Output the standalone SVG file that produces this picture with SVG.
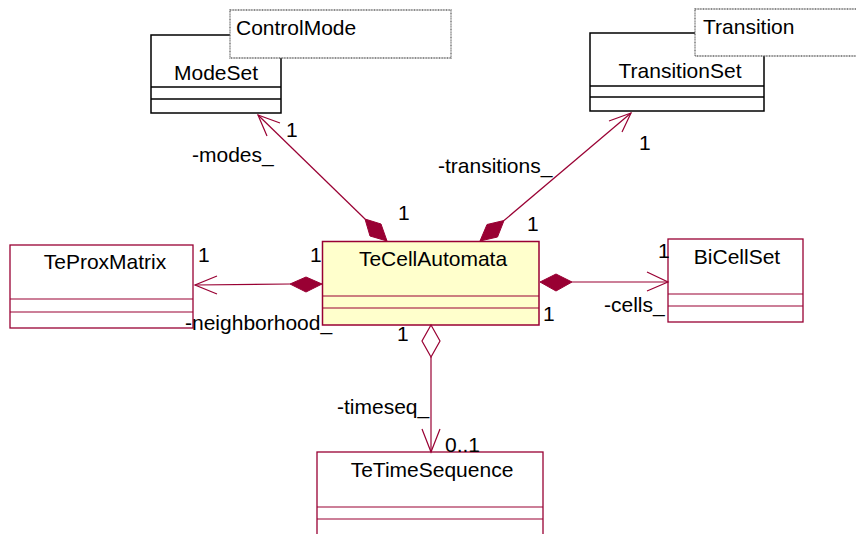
<svg xmlns="http://www.w3.org/2000/svg" width="856" height="534" viewBox="0 0 856 534">
<style>
text{font-family:"Liberation Sans",Arial,sans-serif;font-size:21px;fill:#000}
.c{text-anchor:middle}
.blk{fill:#fff;stroke:#000;stroke-width:1.5}
.red{fill:#fff;stroke:#990033;stroke-width:1.3}
.yel{fill:#FFFFCC;stroke:#990033;stroke-width:1.5}
.tpl{fill:#fff;stroke:#666;stroke-width:1.3;stroke-dasharray:1 0.6}
.lb{stroke:#000;stroke-width:1.3}
.lr{stroke:#990033;stroke-width:1.2}
.ln{stroke:#990033;stroke-width:1.2;fill:none}
.fd{fill:#990033;stroke:#990033;stroke-width:1}
.hd{fill:#fff;stroke:#990033;stroke-width:1.2}
</style>
<g id="ModeSet">
<rect class="blk" x="151" y="35" width="130" height="78"/>
<line class="lb" x1="151" y1="87" x2="281" y2="87"/>
<line class="lb" x1="151" y1="99" x2="281" y2="99"/>
<text class="c" x="216" y="80">ModeSet</text>
</g>
<g id="ControlMode">
<rect class="tpl" x="230" y="10" width="221" height="48"/>
<text x="236" y="35">ControlMode</text>
</g>
<g id="TransitionSet">
<rect class="blk" x="590" y="33" width="174" height="78"/>
<line class="lb" x1="590" y1="86" x2="764" y2="86"/>
<line class="lb" x1="590" y1="97" x2="764" y2="97"/>
<text class="c" x="680" y="78">TransitionSet</text>
</g>
<g id="Transition">
<rect class="tpl" x="695" y="9" width="170" height="47"/>
<text x="703" y="34">Transition</text>
</g>
<g id="TeProxMatrix">
<rect class="red" x="10" y="245" width="183" height="83"/>
<line class="lr" x1="10" y1="299" x2="193" y2="299"/>
<line class="lr" x1="10" y1="312" x2="193" y2="312"/>
<text class="c" x="105" y="269">TeProxMatrix</text>
</g>
<g id="TeCellAutomata">
<rect class="yel" x="322.5" y="241.5" width="216.5" height="83.5"/>
<line class="lr" x1="322.5" y1="296" x2="539" y2="296"/>
<line class="lr" x1="322.5" y1="308" x2="539" y2="308"/>
<text class="c" x="433" y="266">TeCellAutomata</text>
</g>
<g id="BiCellSet">
<rect class="red" x="668" y="239" width="135" height="83"/>
<line class="lr" x1="668" y1="294" x2="803" y2="294"/>
<line class="lr" x1="668" y1="306" x2="803" y2="306"/>
<text class="c" x="737" y="264">BiCellSet</text>
</g>
<g id="TeTimeSequence">
<rect class="red" x="317" y="452" width="226" height="100"/>
<line class="lr" x1="317" y1="507" x2="543" y2="507"/>
<line class="lr" x1="317" y1="519" x2="543" y2="519"/>
<text class="c" x="432" y="477">TeTimeSequence</text>
</g>
<g id="connectors">
<line class="ln" x1="258" y1="115" x2="365" y2="219"/>
<polyline class="ln" points="280,123 258,115 267,136"/>
<polygon class="fd" points="387,241 381,224 365,219 370,236"/>
<line class="ln" x1="631" y1="113" x2="504" y2="220.5"/>
<polyline class="ln" points="609,121 631,113 622,132"/>
<polygon class="fd" points="480,241 487,224.5 504,220.5 497.5,237"/>
<line class="ln" x1="195" y1="285" x2="290" y2="284"/>
<polyline class="ln" points="217,276 195,285 217,294"/>
<polygon class="fd" points="322,284 306,277 290,284 306,292"/>
<line class="ln" x1="572" y1="282" x2="668" y2="282"/>
<polyline class="ln" points="647,272 668,282 647,291"/>
<polygon class="fd" points="540,282 556,274 572,282 556,291"/>
<line class="ln" x1="431" y1="357" x2="431" y2="452"/>
<polyline class="ln" points="422,429 431,452 440,429"/>
<polygon class="hd" points="431,325 440,341 431,357 422,341"/>
</g>
<g id="labels">
<text x="286" y="137">1</text>
<text x="192" y="162">-modes_</text>
<text x="398" y="220">1</text>
<text x="639" y="150">1</text>
<text x="438" y="173">-transitions_</text>
<text x="527" y="231">1</text>
<text x="198" y="262">1</text>
<text x="310" y="262">1</text>
<text x="185" y="330">-neighborhood_</text>
<text x="658" y="258">1</text>
<text x="543" y="321">1</text>
<text x="604" y="312">-cells_</text>
<text x="397" y="341">1</text>
<text x="337" y="414">-timeseq_</text>
<text x="445" y="452">0..1</text>
</g>
</svg>
